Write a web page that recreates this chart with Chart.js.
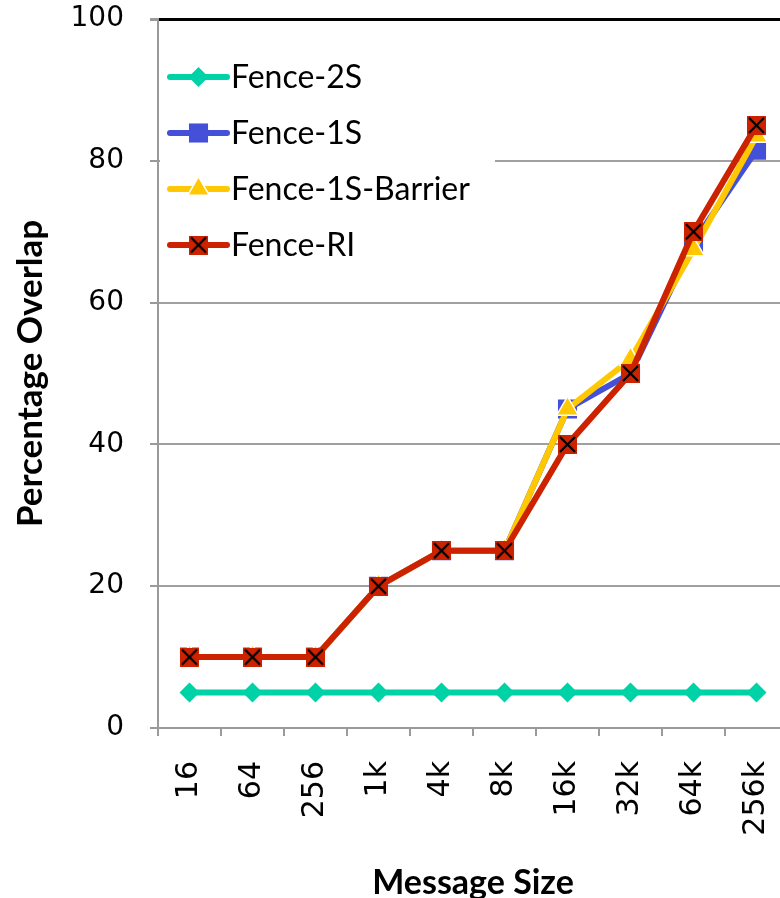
<!DOCTYPE html>
<html>
<head>
<meta charset="utf-8">
<script src="https://cdn.jsdelivr.net/npm/chart.js@4.4.0/dist/chart.umd.min.js"></script>
<style>
  html, body { margin: 0; padding: 0; overflow: hidden; background: #ffffff; }
  #wrap { position: relative; width: 790px; height: 898px; }
  canvas { display: block; }
</style>
</head>
<body>
<div id="wrap"><canvas id="chart"></canvas></div>
<script>
// Message sizes on the x axis
const categories = ['16', '64', '256', '1k', '4k', '8k', '16k', '32k', '64k', '256k'];

// Percentage overlap per synchronization variant
const fence2S        = [5, 5, 5, 5, 5, 5, 5, 5, 5, 5];
const fence1S        = [10, 10, 10, 20, 25, 25, 45, 50, 68.5, 81.5];
const fence1SBarrier = [10, 10, 10, 20, 25, 25, 45, 52, 67.5, 83.5];
const fenceRI        = [10, 10, 10, 20, 25, 25, 40, 50, 70, 85];

const seriesNames = ['Fence-2S', 'Fence-1S', 'Fence-1S-Barrier', 'Fence-RI'];
const yTickValues = [0, 20, 40, 60, 80, 100];

// Red square with a black cross, used as the Fence-RI marker
function crossBox(size) {
  const c = document.createElement('canvas');
  c.width = size; c.height = size;
  const g = c.getContext('2d');
  g.fillStyle = '#CC2200';
  g.fillRect(0, 0, size, size);
  g.strokeStyle = '#000000';
  g.lineWidth = 2.2;
  g.beginPath();
  g.moveTo(2, 2); g.lineTo(size - 2, size - 2);
  g.moveTo(size - 2, 2); g.lineTo(2, size - 2);
  g.stroke();
  return c;
}
const riMarker = crossBox(19);

const LINE_W = 6;

const datasets = [
  { label: seriesNames[0], data: fence2S, borderColor: '#00D2A8', backgroundColor: '#00D2A8',
    pointStyle: 'rectRot', pointRadius: 10, pointBorderWidth: 0, order: 3 },
  { label: seriesNames[1], data: fence1S, borderColor: '#4450D8', backgroundColor: '#4450D8',
    pointStyle: 'rect', pointRadius: 13.5, pointBorderWidth: 0, order: 2 },
  { label: seriesNames[2], data: fence1SBarrier, borderColor: '#FFC800', backgroundColor: '#FFC800',
    pointStyle: 'triangle', pointRadius: 12.5, pointBorderWidth: 1.5, pointBorderColor: '#FFFFFF', order: 1 },
  { label: seriesNames[3], data: fenceRI, borderColor: '#CC2200', backgroundColor: '#CC2200',
    pointStyle: riMarker, pointRadius: 10, pointBorderWidth: 0, order: 0 }
].map(d => Object.assign({ borderWidth: LINE_W, tension: 0, fill: false, pointHoverRadius: d.pointRadius }, d));

// Legend drawn inside the plot area, on a white panel
const insideLegend = {
  id: 'insideLegend',
  afterDatasetsDraw(chart) {
    const ctx = chart.ctx;
    const a = chart.chartArea;
    ctx.save();
    ctx.fillStyle = '#FFFFFF';
    ctx.fillRect(a.left + 2, a.top + 26, 335, 250);
    const x0 = a.left + 12, x1 = a.left + 69, tx = a.left + 73;
    chart.data.datasets.forEach((ds, i) => {
      const y = a.top + 58 + i * 56;
      ctx.strokeStyle = ds.borderColor;
      ctx.lineWidth = LINE_W;
      ctx.lineCap = 'round';
      ctx.beginPath();
      ctx.moveTo(x0, y); ctx.lineTo(x1, y);
      ctx.stroke();
      ctx.fillStyle = ds.backgroundColor;
      ctx.strokeStyle = ds.pointBorderColor || ds.borderColor;
      ctx.lineWidth = ds.pointBorderWidth;
      Chart.helpers.drawPoint(ctx, {
        pointStyle: ds.pointStyle, rotation: 0,
        radius: ds.pointRadius, borderWidth: ds.pointBorderWidth
      }, (x0 + x1) / 2, y);
      ctx.fillStyle = '#000000';
      ctx.font = '32px Lato';
      ctx.textBaseline = 'middle';
      ctx.textAlign = 'left';
      ctx.fillText(ds.label, tx, y + 1);
    });
    ctx.restore();
  }
};

new Chart(document.getElementById('chart'), {
  type: 'line',
  data: { labels: categories, datasets },
  plugins: [insideLegend],
  options: {
    responsive: true,
    maintainAspectRatio: false,
    animation: false,
    layout: { autoPadding: false, padding: { left: 0, top: 19, right: 2, bottom: 0 } },
    plugins: { legend: { display: false }, tooltip: { enabled: false } },
    scales: {
      x: {
        offset: true,
        afterFit(s) { s.height = 170; s.paddingLeft = 0; s.paddingRight = 0; },
        grid: { offset: true, drawOnChartArea: false, tickLength: 8, tickColor: '#9A9A9A', lineWidth: 2 },
        border: { color: '#9A9A9A', width: 2 },
        ticks: {
          minRotation: 90, maxRotation: 90, padding: 25, autoSkip: false,
          color: '#000000', font: { family: 'DejaVu Sans', size: 30 }
        },
        title: {
          display: true, text: 'Message Size', color: '#000000',
          font: { family: 'Lato', size: 34, weight: 'bold', lineHeight: 0.9 },
          padding: { top: 0, bottom: 0 }
        }
      },
      y: {
        min: 0, max: 100,
        afterFit(s) { s.width = 158; s.paddingTop = 0; s.paddingBottom = 0; },
        afterBuildTicks(s) { s.ticks = yTickValues.map(v => ({ value: v })); },
        grid: {
          tickLength: 8, tickColor: '#9A9A9A',
          color: c => (c.tick && c.tick.value === 100) ? '#000000' : '#A0A0A0',
          lineWidth: c => (c.tick && c.tick.value === 100) ? 3 : 2
        },
        border: { color: '#9A9A9A', width: 2 },
        ticks: { padding: 26, color: '#000000', font: { family: 'DejaVu Sans', size: 28 } },
        title: {
          display: true, text: 'Percentage Overlap', color: '#000000',
          font: { family: 'Lato', size: 35, weight: 'bold', lineHeight: 1.2 },
          padding: { top: 10, bottom: 0 }
        }
      }
    }
  }
});
</script>
</body>
</html>
